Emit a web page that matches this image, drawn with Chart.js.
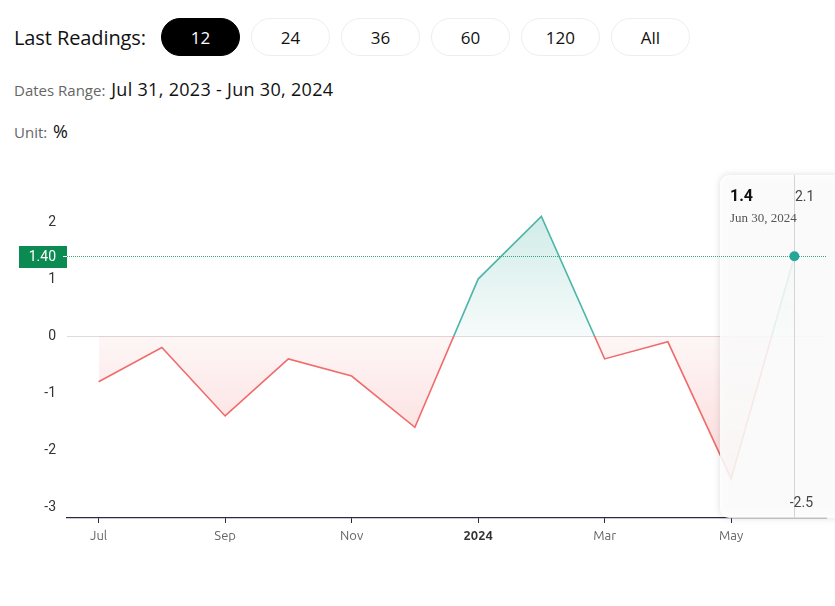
<!DOCTYPE html>
<html>
<head>
<meta charset="utf-8">
<script src="https://cdn.jsdelivr.net/npm/chart.js@4.4.1/dist/chart.umd.min.js"></script>
<style>
	body { margin: 0; width: 835px; height: 606px; background: #fff; font-family: "Open Sans", Roboto, sans-serif; color: #111; overflow: hidden; position: relative; }
	.head { position: absolute; left: 14px; top: 18px; display: flex; align-items: center; }
	.head .title { font-size: 20px; margin-right: 15px; letter-spacing: -0.1px; }
	.btn { width: 79px; height: 38px; border-radius: 19px; border: 1px solid #eee; box-sizing: border-box; display: flex; align-items: center; justify-content: center; font-size: 17px; margin-right: 11px; }
	.btn.on { background: #000; color: #fff; border-color: #000; }
	.meta { position: absolute; left: 14px; font-size: 15px; color: #666; }
	.meta span { font-size: 18px; color: #111; letter-spacing: 0.3px; margin-left: 2px; }
	#wrap { position: absolute; left: 0; top: 150px; width: 835px; height: 410px; }
</style>
</head>
<body>
<div class="head">
	<div class="title">Last Readings:</div>
	<div class="btn on">12</div>
	<div class="btn">24</div>
	<div class="btn">36</div>
	<div class="btn">60</div>
	<div class="btn">120</div>
	<div class="btn">All</div>
</div>
<div class="meta" style="top:77px">Dates Range: <span>Jul 31, 2023 - Jun 30, 2024</span></div>
<div class="meta" style="top:119px">Unit: <span>%</span></div>
<div id="wrap"><canvas id="Readings"></canvas></div>
<script>
// data
const dates = ["Jul 31, 2023", "Aug 31, 2023", "Sep 30, 2023", "Oct 31, 2023", "Nov 30, 2023", "Dec 31, 2023",
	"Jan 31, 2024", "Feb 29, 2024", "Mar 31, 2024", "Apr 30, 2024", "May 31, 2024", "Jun 30, 2024"];
const tickLabels = ["Jul", "", "Sep", "", "Nov", "", "2024", "", "Mar", "", "May", ""];
const values = [-0.8, -0.2, -1.4, -0.4, -0.7, -1.6, 1.0, 2.1, -0.4, -0.1, -2.5, 1.4];
const yTicks = [-3, -2, -1, 0, 1, 2];

const RED = "#f06b6b";
const TEAL = "#4db6a8";
const GREEN = "#0b8a52";

const lastIdx = values.length - 1;
const maxVal = Math.max(...values);
const minVal = Math.min(...values);
const pad = (maxVal - minVal) * 0.15;

// stroke / fill split at zero
function zeroGradient(chart, mode) {
	const { ctx, chartArea, scales } = chart;
	if (!chartArea) return null;
	const y = scales.y;
	const y0 = y.getPixelForValue(0);
	const yTop = y.getPixelForValue(maxVal);
	const yBot = y.getPixelForValue(minVal);
	const g = ctx.createLinearGradient(0, chartArea.top, 0, chartArea.bottom);
	const stop = (px) => Math.min(1, Math.max(0, (px - chartArea.top) / (chartArea.bottom - chartArea.top)));
	if (mode === "line") {
		g.addColorStop(0, TEAL);
		g.addColorStop(stop(y0), TEAL);
		g.addColorStop(stop(y0), RED);
		g.addColorStop(1, RED);
	} else if (mode === "above") {
		g.addColorStop(0, "rgba(77,182,168,0.30)");
		g.addColorStop(stop(yTop), "rgba(77,182,168,0.26)");
		g.addColorStop(stop(y0), "rgba(77,182,168,0.05)");
		g.addColorStop(1, "rgba(77,182,168,0.05)");
	} else {
		g.addColorStop(0, "rgba(240,107,107,0.05)");
		g.addColorStop(stop(y0), "rgba(240,107,107,0.06)");
		g.addColorStop(stop(yBot), "rgba(240,107,107,0.26)");
		g.addColorStop(1, "rgba(240,107,107,0.28)");
	}
	return g;
}

const overlay = {
	id: "overlay",
	afterDatasetsDraw(chart) {
		const { ctx, chartArea, scales } = chart;
		const x = scales.x.getPixelForValue(lastIdx);
		const y = scales.y.getPixelForValue(values[lastIdx]);

		// tooltip panel
		const bx = 720, by = 25, bw = 122, bh = 343, r = 9;
		ctx.save();
		ctx.shadowColor = "rgba(0,0,0,0.16)";
		ctx.shadowBlur = 7;
		ctx.fillStyle = "rgba(255,255,255,0.86)";
		ctx.beginPath();
		ctx.roundRect(bx, by, bw, bh, r);
		ctx.fill();
		ctx.restore();

		// crosshair
		ctx.save();
		ctx.strokeStyle = "#d4d4d4";
		ctx.lineWidth = 1;
		ctx.beginPath();
		ctx.moveTo(Math.round(x) + 0.5, by);
		ctx.lineTo(Math.round(x) + 0.5, chartArea.bottom);
		ctx.stroke();

		// last value guide
		ctx.strokeStyle = "#34a874";
		ctx.setLineDash([1, 1]);
		ctx.beginPath();
		ctx.moveTo(chartArea.left, Math.round(y) + 0.5);
		ctx.lineTo(chartArea.right, Math.round(y) + 0.5);
		ctx.stroke();
		ctx.setLineDash([]);

		// label on the axis
		ctx.fillStyle = GREEN;
		ctx.fillRect(19, Math.round(y) - 10, 48, 22);
		ctx.fillStyle = "#fff";
		ctx.font = "14px Roboto, sans-serif";
		ctx.textAlign = "right";
		ctx.textBaseline = "middle";
		ctx.fillText(values[lastIdx].toFixed(2), 56, y + 1);
		ctx.fillRect(63, Math.round(y), 4, 1);

		// point
		ctx.fillStyle = "#26a69a";
		ctx.beginPath();
		ctx.arc(x, y, 5, 0, Math.PI * 2);
		ctx.fill();

		// texts
		ctx.textAlign = "left";
		ctx.textBaseline = "alphabetic";
		ctx.fillStyle = "#111";
		ctx.font = "bold 16px Roboto, sans-serif";
		ctx.fillText(String(values[lastIdx]), 730, 51);
		ctx.fillStyle = "#555";
		ctx.font = "13px 'Liberation Serif', 'DejaVu Serif', serif";
		ctx.fillText(dates[lastIdx], 730, 72);
		ctx.font = "14px Roboto, sans-serif";
		ctx.fillStyle = "#444";
		ctx.fillText(String(maxVal), 795, 51);
		ctx.textAlign = "right";
		ctx.fillText(String(minVal), 813, 357);
		ctx.restore();
	},
};

const ctx = document.getElementById("Readings").getContext("2d");
new Chart(ctx, {
	type: "line",
	data: {
		labels: dates,
		datasets: [
			{
				label: "Reading",
				data: values,
				borderWidth: 1.6,
				borderColor: (c) => zeroGradient(c.chart, "line") || RED,
				pointRadius: 0,
				pointHoverRadius: 0,
				tension: 0,
				fill: {
					target: "origin",
					above: (c) => zeroGradient(c.chart, "above") || "rgba(77,182,168,0.15)",
					below: (c) => zeroGradient(c.chart, "below") || "rgba(240,107,107,0.15)",
				},
			},
		],
	},
	options: {
		responsive: true,
		maintainAspectRatio: false,
		animation: false,
		layout: { padding: { top: 27, right: 9, left: 0, bottom: 0 } },
		plugins: {
			legend: { display: false },
			tooltip: { enabled: false },
		},
		scales: {
			x: {
				offset: true,
				grid: {
					drawOnChartArea: false,
					drawTicks: true,
					tickLength: 5,
					tickColor: "#2b2b40",
					offset: false,
				},
				border: { display: true, color: "#2b2b40", width: 1.2 },
				afterBuildTicks: (scale) => {
					scale.ticks = scale.ticks.filter((t) => tickLabels[t.value] !== "");
				},
				afterFit: (scale) => {
					scale.height = 42;
				},
				ticks: {
					autoSkip: false,
					maxRotation: 0,
					padding: 5,
					color: (c) => (tickLabels[c.index * 2] === "2024" ? "#333" : "#666"),
					font: (c) => ({
						family: "Ubuntu, 'DejaVu Sans', sans-serif",
						size: 13,
						weight: tickLabels[c.index * 2] === "2024" ? "bold" : "normal",
					}),
					callback: (v) => tickLabels[v],
				},
			},
			y: {
				min: minVal - pad,
				max: maxVal + pad,
				grid: {
					drawTicks: false,
					color: (c) => (c.tick && c.tick.value === 0 ? "#e2d9d9" : "transparent"),
				},
				border: { display: false },
				afterBuildTicks: (scale) => {
					scale.ticks = yTicks.map((v) => ({ value: v }));
				},
				afterFit: (scale) => {
					scale.width = 67;
				},
				ticks: {
					padding: 11,
					color: "#333",
					font: { family: "Roboto, sans-serif", size: 14 },
				},
			},
		},
	},
	plugins: [overlay],
});
</script>
</body>
</html>
